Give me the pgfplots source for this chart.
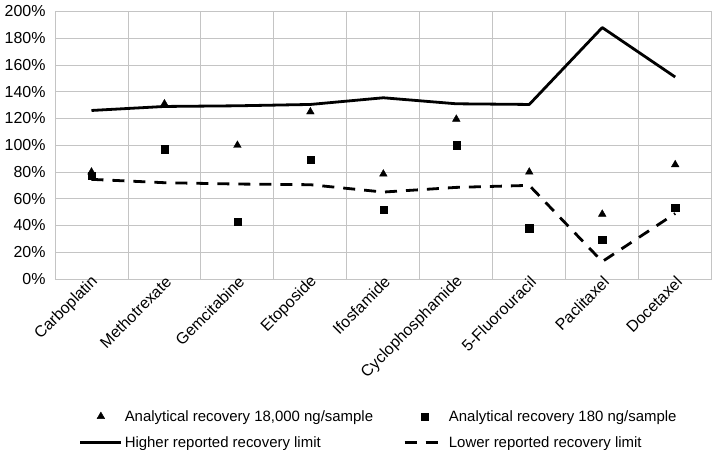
\documentclass[border=0pt]{standalone}
\usepackage{pgfplots}
\pgfplotsset{compat=1.18}
\usepackage{fontspec}
\setmainfont{Liberation Sans}
\definecolor{gridgray}{HTML}{C4C4C4}
\begin{document}
\begin{tikzpicture}
\path[use as bounding box] (-55bp,-171bp) rectangle (658bp,279bp);
\begin{axis}[
  scale only axis,
  width=656.7bp, height=267.5bp,
  xmin=-0.5, xmax=8.5, ymin=0, ymax=200,
  xtick={0,...,8},
  xticklabels={Carboplatin,Methotrexate,Gemcitabine,Etoposide,Ifosfamide,Cyclophosphamide,5-Fluorouracil,Paclitaxel,Docetaxel},
  minor xtick={-0.5,0.5,...,8.5},
  ytick={0,20,...,200},
  yticklabel={\pgfmathprintnumber{\tick}\%},
  /pgf/number format/assume math mode=true,
  xminorgrids, ymajorgrids,
  major tick length=0pt, minor tick length=0pt,
  grid style={gridgray, line width=0.9bp},
  minor grid style={gridgray, line width=0.9bp},
  axis line style={gridgray, line width=0.9bp},
  tick label style={font=\fontsize{16}{19}\selectfont, text=black},
  yticklabel style={xshift=-6bp},
  xticklabel style={rotate=45, anchor=east, yshift=-3bp, xshift=6bp},
  legend columns=2,
  legend style={draw=none, fill=none, at={(0.493,-0.475)}, anchor=north,
    font=\fontsize{15}{18}\selectfont, row sep=10bp,
    /tikz/every even column/.append style={column sep=28bp}},
  legend cell align=left,
  legend image code/.code={\draw[mark repeat=2,mark phase=2,#1] plot coordinates {(0bp,0bp) (20.5bp,0bp) (41bp,0bp)};},
]
\addplot[only marks, mark=triangle*, mark size=4.4bp, black] coordinates {
 (0,80) (1,131) (2,100) (3,125) (4,78.5) (5,119.5) (6,80) (7,48.5) (8,85.5)};
\addlegendentry{Analytical recovery 18,000 ng/sample}
\addplot[only marks, mark=square*, mark size=3.6bp, black] coordinates {
 (0,77) (1,97) (2,43) (3,89) (4,52) (5,100) (6,38) (7,29.5) (8,53.5)};
\addlegendentry{Analytical recovery 180 ng/sample}
\addplot[black, line width=2.8bp, line join=round] coordinates {
 (0,126) (1,129) (2,129.5) (3,130.5) (4,135.5) (5,131) (6,130.5) (7,188) (8,151)};
\addlegendentry{Higher reported recovery limit}
\addplot[black, line width=2.8bp, dash pattern=on 12bp off 9bp] coordinates {
 (0,74.5) (1,72) (2,71) (3,70.5) (4,65) (5,68.5) (6,70) (7,13) (8,49)};
\addlegendentry{Lower reported recovery limit}
\end{axis}
\end{tikzpicture}
\end{document}
